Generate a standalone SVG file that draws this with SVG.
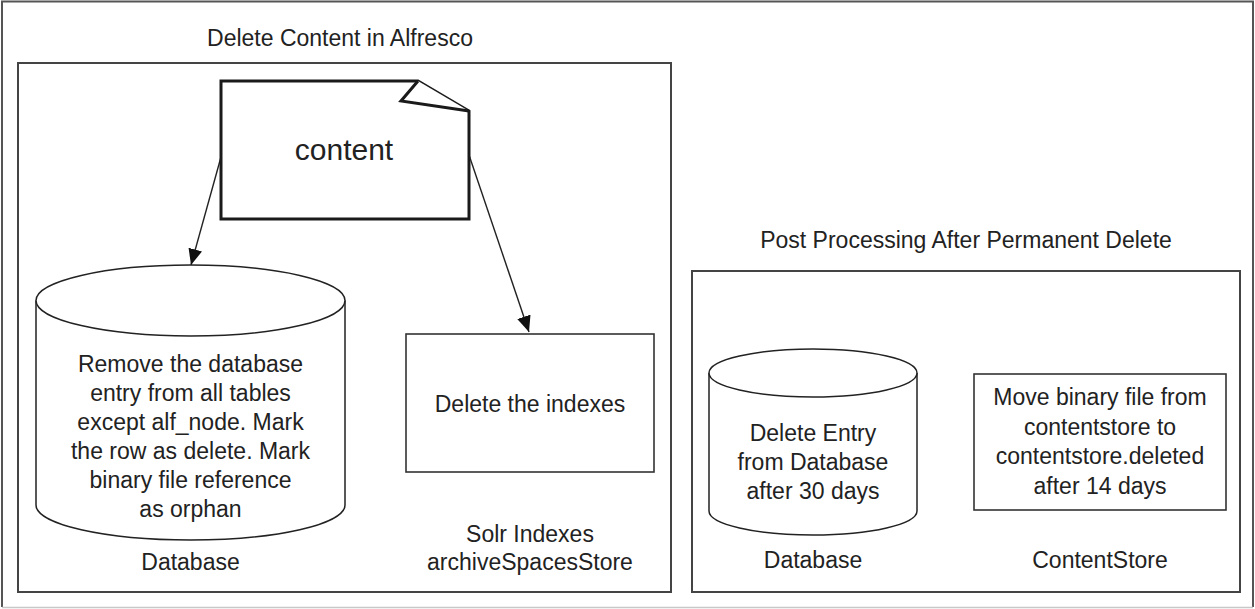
<svg xmlns="http://www.w3.org/2000/svg" width="1255" height="609" viewBox="0 0 1255 609">
<style>
text{font-family:"Liberation Sans",Arial,sans-serif;font-size:23px;fill:#222;text-anchor:middle}
.frame{fill:none;stroke:#444;stroke-width:2}
.box{fill:#fff;stroke:#333;stroke-width:1.6}
.cyl{fill:#fff;stroke:#222;stroke-width:1.5}
.doc{fill:#fff;stroke:#1a1a1a;stroke-width:3;stroke-linejoin:miter}
.conn{fill:none;stroke:#222;stroke-width:1.4}
</style>
<defs>
<marker id="arr" markerUnits="userSpaceOnUse" markerWidth="18" markerHeight="14" refX="16" refY="7" orient="auto">
<path d="M0,0 L16,7 L0,14 Z" fill="#111"/>
</marker>
</defs>
<rect width="1255" height="609" fill="#fff"/>
<g id="outer-frame">
<path d="M2,607 L2,1.5 L1253,1.5 L1253,607" fill="none" stroke="#555" stroke-width="2"/>
<line x1="2" y1="607.5" x2="1253" y2="607.5" stroke="#c8c8c8" stroke-width="1.5"/>
</g>
<g id="group-delete">
<text x="340" y="46">Delete Content in Alfresco</text>
<rect class="frame" x="18" y="63" width="653" height="529"/>
</g>
<g id="group-post">
<text x="966" y="248">Post Processing After Permanent Delete</text>
<rect class="frame" x="692" y="271" width="548" height="321"/>
</g>
<g id="connectors">
<line class="conn" x1="221" y1="157" x2="191" y2="265" marker-end="url(#arr)"/>
<line class="conn" x1="469" y1="155" x2="529" y2="332" marker-end="url(#arr)"/>
</g>
<g id="node-content">
<path class="doc" d="M221,81 L418,81 L469,111 L469,219 L221,219 Z"/>
<path class="doc" d="M418,81 L401,101 L469,111" stroke-width="2.5"/>
<text x="344" y="160" style="font-size:30px">content</text>
</g>
<g id="node-db1">
<path class="cyl" d="M36,300.5 L36,505 A154.5,35 0 0 0 345,505 L345,300.5"/>
<ellipse class="cyl" cx="190.5" cy="300.5" rx="154.5" ry="35.5"/>
<text x="190.5" y="372">Remove the database</text>
<text x="190.5" y="401">entry from all tables</text>
<text x="190.5" y="430">except alf_node. Mark</text>
<text x="190.5" y="459">the row as delete. Mark</text>
<text x="190.5" y="488">binary file reference</text>
<text x="190.5" y="517">as orphan</text>
<text x="190.5" y="570">Database</text>
</g>
<g id="node-solr">
<rect class="box" x="406" y="334" width="248" height="138"/>
<text x="530" y="412">Delete the indexes</text>
<text x="530" y="542">Solr Indexes</text>
<text x="530" y="570">archiveSpacesStore</text>
</g>
<g id="node-db2">
<path class="cyl" d="M709,373 L709,511 A104,24 0 0 0 917,511 L917,373"/>
<ellipse class="cyl" cx="813" cy="373" rx="104" ry="24"/>
<text x="813" y="441">Delete Entry</text>
<text x="813" y="470">from Database</text>
<text x="813" y="499">after 30 days</text>
<text x="813" y="568">Database</text>
</g>
<g id="node-contentstore">
<rect class="box" x="974" y="374" width="252" height="136"/>
<text x="1100" y="405">Move binary file from</text>
<text x="1100" y="434.5">contentstore to</text>
<text x="1100" y="464">contentstore.deleted</text>
<text x="1100" y="493.5">after 14 days</text>
<text x="1100" y="568">ContentStore</text>
</g>
</svg>
